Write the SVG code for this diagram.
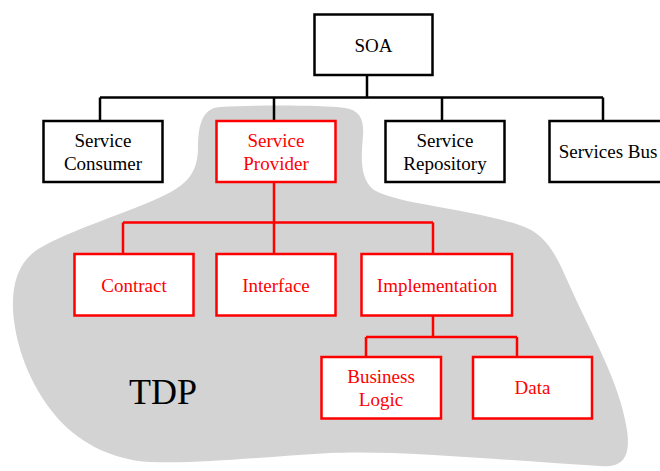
<svg xmlns="http://www.w3.org/2000/svg" width="660" height="471" viewBox="0 0 660 471">
  <style>
    .box { fill: #ffffff; stroke: #000000; stroke-width: 2.5; }
    .box-red { fill: #ffffff; stroke: #ff0000; stroke-width: 2.5; }
    .lbl { font-family: "Liberation Serif", "Times New Roman", serif; font-size: 19px; text-anchor: middle; fill: #000000; }
    .lbl-red { font-family: "Liberation Serif", "Times New Roman", serif; font-size: 19px; text-anchor: middle; fill: #ff0000; }
    .wire { fill: none; stroke: #000000; stroke-width: 2.5; }
    .wire-red { fill: none; stroke: #ff0000; stroke-width: 2.5; }
  </style>

  <!-- TDP region -->
  <g id="tdp-region">
    <path fill="#d3d3d3" d="M 220,107
      C 260,105 320,105 345,108
      C 360,110 364,120 363,135
      C 362,152 358,178 374,190
      C 400,205 470,208 522,226
      C 545,234 555,252 568,282
      C 590,332 620,382 627,430
      C 631,458 622,468 600,466
      C 500,460 400,450 330,453
      C 260,457 200,464 150,462
      C 110,460 75,440 55,415
      C 30,385 15,345 13,310
      C 12,280 20,260 40,248
      C 70,230 130,212 165,195
      C 190,183 197,170 198,150
      C 198,130 200,108 220,107 Z"/>
    <text x="163" y="404" font-family="Liberation Serif, Times New Roman, serif" font-size="36" text-anchor="middle" fill="#000000">TDP</text>
  </g>

  <!-- connectors -->
  <g id="connectors">
    <path class="wire" d="M 367,75 V 97.5 M 100,97.5 H 603 M 100,97.5 V 121 M 274,97.5 V 121 M 442,97.5 V 121 M 603,97.5 V 121"/>
    <path class="wire-red" d="M 274,182 V 222.5 M 123,222.5 H 433 M 123,222.5 V 253 M 274,222.5 V 253 M 433,222.5 V 253"/>
    <path class="wire-red" d="M 433,316 V 337 M 366,337 H 517 M 366,337 V 356 M 517,337 V 356"/>
  </g>

  <!-- nodes -->
  <g id="soa">
    <rect class="box" x="314.5" y="14.5" width="118" height="60.5"/>
    <text class="lbl" x="373.5" y="52">SOA</text>
  </g>
  <g id="service-consumer">
    <rect class="box" x="43.5" y="121" width="119" height="61"/>
    <text class="lbl" x="103" y="147">Service</text>
    <text class="lbl" x="103" y="170">Consumer</text>
  </g>
  <g id="service-provider">
    <rect class="box-red" x="216.5" y="121" width="119" height="61"/>
    <text class="lbl-red" x="276" y="147">Service</text>
    <text class="lbl-red" x="276" y="170">Provider</text>
  </g>
  <g id="service-repository">
    <rect class="box" x="385.5" y="121" width="119" height="61"/>
    <text class="lbl" x="445" y="147">Service</text>
    <text class="lbl" x="445" y="170">Repository</text>
  </g>
  <g id="services-bus">
    <rect class="box" x="549.5" y="121" width="119" height="61"/>
    <text class="lbl" x="608" y="158">Services Bus</text>
  </g>
  <g id="contract">
    <rect class="box-red" x="74.5" y="254" width="119" height="61.5"/>
    <text class="lbl-red" x="134" y="292">Contract</text>
  </g>
  <g id="interface">
    <rect class="box-red" x="216.5" y="254" width="119" height="61.5"/>
    <text class="lbl-red" x="276" y="292">Interface</text>
  </g>
  <g id="implementation">
    <rect class="box-red" x="361.5" y="254" width="150.5" height="61.5"/>
    <text class="lbl-red" x="437" y="292">Implementation</text>
  </g>
  <g id="business-logic">
    <rect class="box-red" x="321.5" y="357" width="119.5" height="61.5"/>
    <text class="lbl-red" x="381" y="383">Business</text>
    <text class="lbl-red" x="381" y="406">Logic</text>
  </g>
  <g id="data">
    <rect class="box-red" x="473" y="357" width="119" height="61.5"/>
    <text class="lbl-red" x="532.5" y="393.5">Data</text>
  </g>
</svg>
